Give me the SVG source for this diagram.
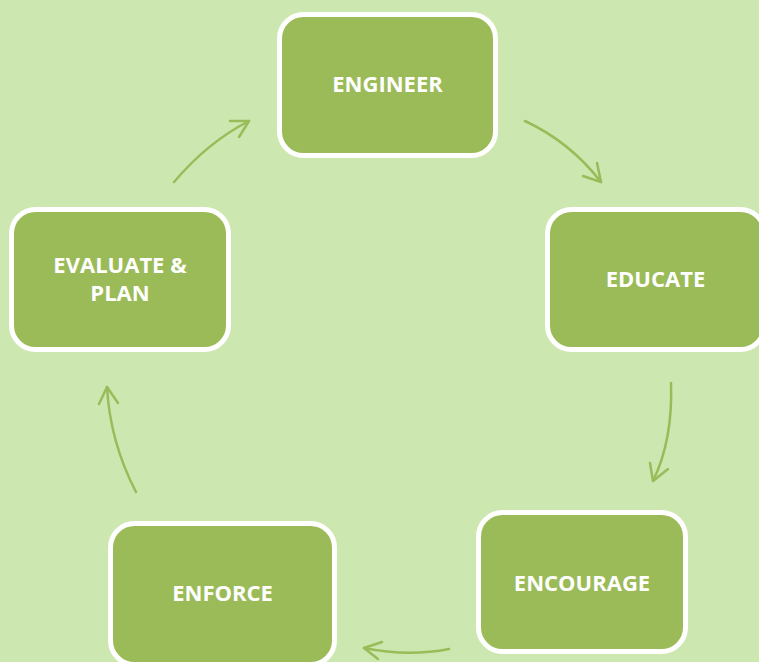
<svg xmlns="http://www.w3.org/2000/svg" width="759" height="662" viewBox="0 0 759 662">
<style>
.box{fill:#9bbb59;stroke:#ffffff;stroke-width:5}
.lbl{font-family:"Open Sans","Liberation Sans",sans-serif;font-weight:bold;font-size:22px;fill:#ffffff;text-anchor:middle}
.con{fill:none;stroke:#9bbb59;stroke-width:2.5;stroke-linecap:round;stroke-linejoin:round}
</style>
<rect x="0" y="0" width="759" height="662" fill="#cce8b0"/>
<g id="connectors">
<path class="con" d="M174,182 Q208,142 249,121"/>
<path class="con" d="M230,121 L249,121 L239,137"/>
<path class="con" d="M525,121 Q570,142 601,182"/>
<path class="con" d="M583,176 L601,182 L597,163"/>
<path class="con" d="M671,383 Q673,440 653,481"/>
<path class="con" d="M650,463 L653,481 L668,469"/>
<path class="con" d="M449,649 Q408,657 364,648"/>
<path class="con" d="M382,642 L364,648 L378,659"/>
<path class="con" d="M136,492 Q110,442 107,387"/>
<path class="con" d="M99,404 L107,387 L118,403"/>
</g>
<g id="engineer">
<rect class="box" x="279.5" y="14.5" width="216" height="141" rx="24"/>
<text class="lbl" x="387.5" y="92">ENGINEER</text>
</g>
<g id="educate">
<rect class="box" x="547.5" y="209.5" width="217" height="140" rx="24"/>
<text class="lbl" x="655.5" y="287">EDUCATE</text>
</g>
<g id="encourage">
<rect class="box" x="478.5" y="512.5" width="207" height="139" rx="24"/>
<text class="lbl" x="582" y="591">ENCOURAGE</text>
</g>
<g id="enforce">
<rect class="box" x="110.5" y="523.5" width="224" height="141" rx="24"/>
<text class="lbl" x="222.5" y="601">ENFORCE</text>
</g>
<g id="evaluate">
<rect class="box" x="11.5" y="209.5" width="217" height="140" rx="24"/>
<text class="lbl" x="120" y="273">EVALUATE &amp;</text>
<text class="lbl" x="120" y="301">PLAN</text>
</g>
</svg>
